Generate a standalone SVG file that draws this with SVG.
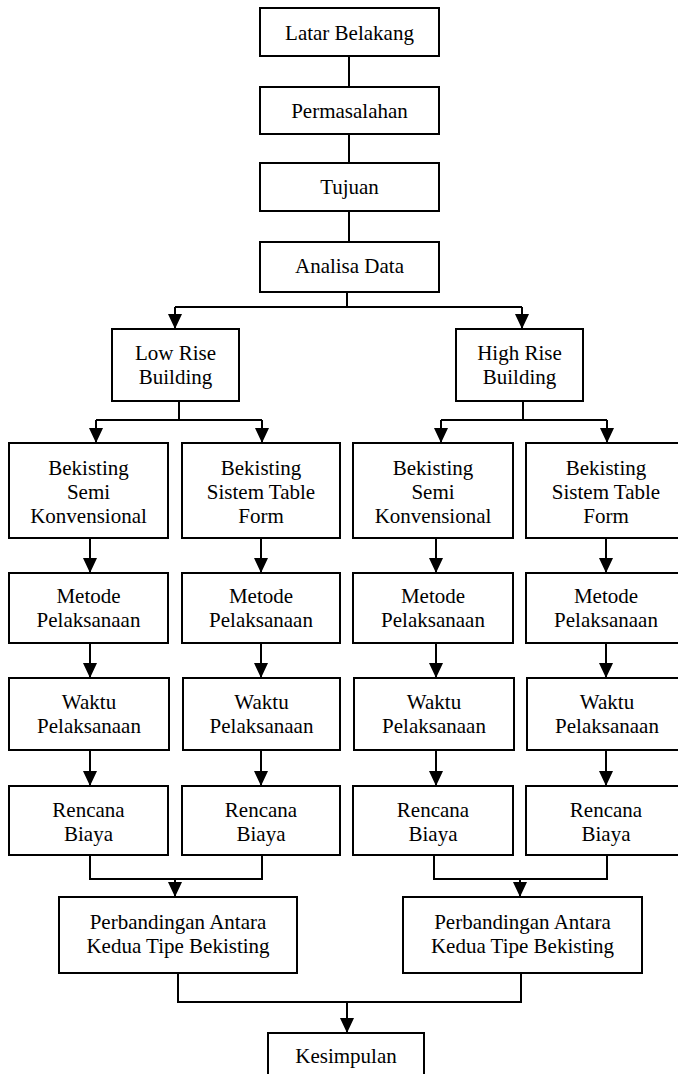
<svg xmlns="http://www.w3.org/2000/svg" width="678" height="1074" viewBox="0 0 678 1074">
<defs>
<style>
.box{fill:#fff;stroke:#000;stroke-width:2}
.t{font-family:"Liberation Serif","Times New Roman",serif;font-size:21px;fill:#000;text-anchor:middle}
.c{fill:none;stroke:#000;stroke-width:2}
</style>
<marker id="ah" viewBox="0 0 15 14" refX="15" refY="7" markerWidth="15" markerHeight="14" markerUnits="userSpaceOnUse" orient="auto">
<path d="M0,0 L15,7 L0,14 z" fill="#000"/>
</marker>
</defs>
<rect width="678" height="1074" fill="#fff"/>
<g id="connectors">
<path class="c" d="M349,56 V87"/>
<path class="c" d="M349,134 V163"/>
<path class="c" d="M349,211 V242"/>
<path class="c" d="M347,292 V307 M175,307 H522"/>
<path class="c" d="M175,307 V329" marker-end="url(#ah)"/>
<path class="c" d="M522,307 V329" marker-end="url(#ah)"/>
<path class="c" d="M179,401 V420 M96,420 H262"/>
<path class="c" d="M96,420 V443" marker-end="url(#ah)"/>
<path class="c" d="M262,420 V443" marker-end="url(#ah)"/>
<path class="c" d="M523,401 V420 M441,420 H607"/>
<path class="c" d="M441,420 V443" marker-end="url(#ah)"/>
<path class="c" d="M607,420 V443" marker-end="url(#ah)"/>
<path class="c" d="M90,538 V573" marker-end="url(#ah)"/>
<path class="c" d="M261,538 V573" marker-end="url(#ah)"/>
<path class="c" d="M436,538 V573" marker-end="url(#ah)"/>
<path class="c" d="M606,538 V573" marker-end="url(#ah)"/>
<path class="c" d="M90,643 V678" marker-end="url(#ah)"/>
<path class="c" d="M261,643 V678" marker-end="url(#ah)"/>
<path class="c" d="M436,643 V678" marker-end="url(#ah)"/>
<path class="c" d="M606,643 V678" marker-end="url(#ah)"/>
<path class="c" d="M90,750 V786" marker-end="url(#ah)"/>
<path class="c" d="M261,750 V786" marker-end="url(#ah)"/>
<path class="c" d="M436,750 V786" marker-end="url(#ah)"/>
<path class="c" d="M606,750 V786" marker-end="url(#ah)"/>
<path class="c" d="M90,855 V879 H262 V855"/>
<path class="c" d="M175,879 V897" marker-end="url(#ah)"/>
<path class="c" d="M434,855 V879 H607 V855"/>
<path class="c" d="M520,879 V897" marker-end="url(#ah)"/>
<path class="c" d="M178,973 V1002 H521 V973"/>
<path class="c" d="M347,1002 V1033" marker-end="url(#ah)"/>
</g>
<g id="latar"><rect class="box" x="260" y="8" width="179" height="48"/><text class="t" x="349.5" y="40">Latar Belakang</text></g>
<g id="permasalahan"><rect class="box" x="260" y="87" width="179" height="47"/><text class="t" x="349.5" y="118">Permasalahan</text></g>
<g id="tujuan"><rect class="box" x="260" y="163" width="179" height="48"/><text class="t" x="349.5" y="194">Tujuan</text></g>
<g id="analisa"><rect class="box" x="260" y="242" width="179" height="50"/><text class="t" x="349.5" y="273">Analisa Data</text></g>
<g id="lowrise"><rect class="box" x="112" y="329" width="127" height="72"/><text class="t" x="175.5" y="360">Low Rise</text><text class="t" x="175.5" y="384">Building</text></g>
<g id="highrise"><rect class="box" x="456" y="329" width="127" height="72"/><text class="t" x="519.5" y="360">High Rise</text><text class="t" x="519.5" y="384">Building</text></g>
<g id="bek1"><rect class="box" x="9" y="443" width="159" height="95"/><text class="t" x="88.5" y="475">Bekisting</text><text class="t" x="88.5" y="499">Semi</text><text class="t" x="88.5" y="523">Konvensional</text></g>
<g id="bek2"><rect class="box" x="182" y="443" width="158" height="95"/><text class="t" x="261" y="475">Bekisting</text><text class="t" x="261" y="499">Sistem Table</text><text class="t" x="261" y="523">Form</text></g>
<g id="bek3"><rect class="box" x="353" y="443" width="160" height="95"/><text class="t" x="433" y="475">Bekisting</text><text class="t" x="433" y="499">Semi</text><text class="t" x="433" y="523">Konvensional</text></g>
<g id="bek4"><rect class="box" x="526" y="443" width="160" height="95"/><text class="t" x="606" y="475">Bekisting</text><text class="t" x="606" y="499">Sistem Table</text><text class="t" x="606" y="523">Form</text></g>
<g id="met1"><rect class="box" x="9" y="573" width="159" height="70"/><text class="t" x="88.5" y="603">Metode</text><text class="t" x="88.5" y="627">Pelaksanaan</text></g>
<g id="met2"><rect class="box" x="182" y="573" width="158" height="70"/><text class="t" x="261" y="603">Metode</text><text class="t" x="261" y="627">Pelaksanaan</text></g>
<g id="met3"><rect class="box" x="353" y="573" width="160" height="70"/><text class="t" x="433" y="603">Metode</text><text class="t" x="433" y="627">Pelaksanaan</text></g>
<g id="met4"><rect class="box" x="526" y="573" width="160" height="70"/><text class="t" x="606" y="603">Metode</text><text class="t" x="606" y="627">Pelaksanaan</text></g>
<g id="wak1"><rect class="box" x="9" y="678" width="160" height="72"/><text class="t" x="89" y="709">Waktu</text><text class="t" x="89" y="733">Pelaksanaan</text></g>
<g id="wak2"><rect class="box" x="183" y="678" width="157" height="72"/><text class="t" x="261.5" y="709">Waktu</text><text class="t" x="261.5" y="733">Pelaksanaan</text></g>
<g id="wak3"><rect class="box" x="354" y="678" width="160" height="72"/><text class="t" x="434" y="709">Waktu</text><text class="t" x="434" y="733">Pelaksanaan</text></g>
<g id="wak4"><rect class="box" x="527" y="678" width="160" height="72"/><text class="t" x="607" y="709">Waktu</text><text class="t" x="607" y="733">Pelaksanaan</text></g>
<g id="ren1"><rect class="box" x="9" y="786" width="159" height="69"/><text class="t" x="88.5" y="817">Rencana</text><text class="t" x="88.5" y="841">Biaya</text></g>
<g id="ren2"><rect class="box" x="182" y="786" width="158" height="69"/><text class="t" x="261" y="817">Rencana</text><text class="t" x="261" y="841">Biaya</text></g>
<g id="ren3"><rect class="box" x="353" y="786" width="160" height="69"/><text class="t" x="433" y="817">Rencana</text><text class="t" x="433" y="841">Biaya</text></g>
<g id="ren4"><rect class="box" x="526" y="786" width="160" height="69"/><text class="t" x="606" y="817">Rencana</text><text class="t" x="606" y="841">Biaya</text></g>
<g id="perb1"><rect class="box" x="59" y="897" width="238" height="76"/><text class="t" x="178" y="929">Perbandingan Antara</text><text class="t" x="178" y="953">Kedua Tipe Bekisting</text></g>
<g id="perb2"><rect class="box" x="403" y="897" width="239" height="76"/><text class="t" x="522.5" y="929">Perbandingan Antara</text><text class="t" x="522.5" y="953">Kedua Tipe Bekisting</text></g>
<g id="kesimpulan"><rect class="box" x="268" y="1033" width="156" height="55"/><text class="t" x="346" y="1063">Kesimpulan</text></g>
</svg>
